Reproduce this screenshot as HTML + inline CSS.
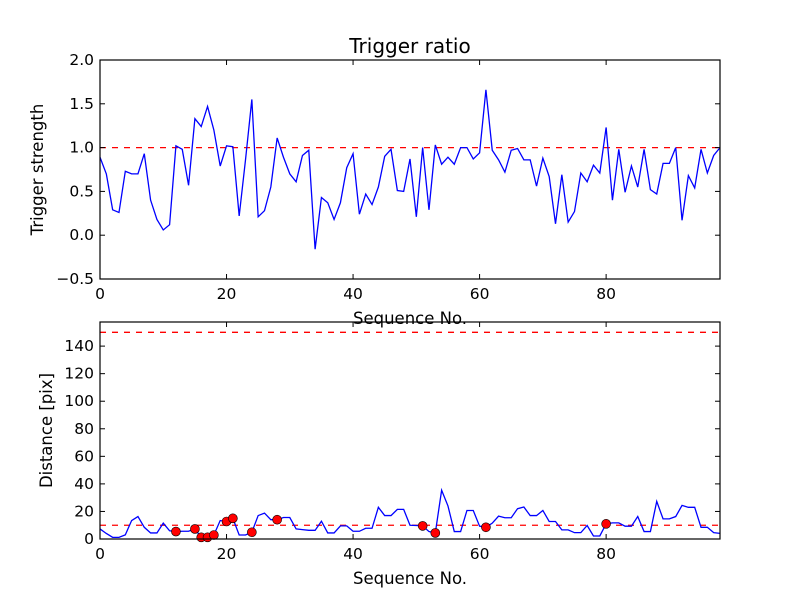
<!DOCTYPE html>
<html><head><meta charset="utf-8"><style>
body{margin:0;background:#fff;}
svg text{font-family:"DejaVu Sans","Liberation Sans",sans-serif;fill:#000;}
</style></head><body>
<svg id="chart" width="800" height="600" xmlns="http://www.w3.org/2000/svg"></svg>
<script>
const ratio=[0.89,0.70,0.29,0.26,0.73,0.70,0.70,0.93,0.40,0.18,0.06,0.12,1.02,0.98,0.57,1.33,1.24,1.47,1.20,0.79,1.02,1.01,0.22,0.86,1.55,0.21,0.28,0.55,1.11,0.89,0.70,0.61,0.91,0.97,-0.16,0.43,0.37,0.18,0.37,0.77,0.93,0.24,0.47,0.35,0.55,0.90,0.98,0.51,0.50,0.87,0.21,1.0,0.29,1.03,0.81,0.89,0.81,1.0,1.0,0.87,0.94,1.66,0.97,0.86,0.72,0.97,0.99,0.86,0.86,0.56,0.88,0.67,0.13,0.69,0.15,0.27,0.71,0.61,0.80,0.71,1.23,0.40,0.98,0.49,0.79,0.55,0.98,0.52,0.47,0.82,0.82,1.0,0.17,0.68,0.54,0.98,0.71,0.91,1.0];
const dist=[7.3,4,1.2,1.2,3,13.4,16.3,8.5,4.4,4.4,11.5,6,5.4,5.6,5.6,7.3,1.2,1.2,2.9,13.4,12.7,15,2.9,2.9,4.9,17,18.8,14,14,15.6,15.6,7.3,6.8,6.3,6.3,12.9,4.4,4.4,9.5,9.5,5.6,5.6,7.8,7.8,23,17,17,21.5,21.5,10,9.8,9.5,5.4,4.4,35.4,24,5.4,5.4,20.7,20.7,9.3,8.5,11.5,16.6,15.4,15.4,22,23.2,17,17,20.7,12.7,12.7,6.6,6.6,4.6,4.6,9.8,2.2,2.2,11,11.7,11.7,9.3,9.3,16.3,5.4,5.4,27.3,14.6,14.6,16.3,24.4,23,23,8.5,8.5,4.6,4.1];
const markIdx=[12,15,16,17,18,20,21,24,28,51,53,61,80];
const xTicks=[0,20,40,60,80];
const yTicksTop=[-0.5,0.0,0.5,1.0,1.5,2.0];
const yTicksBot=[0,20,40,60,80,100,120,140];
const ratioThreshold=[1.0];
const distThresholds=[10,150];

const svg=document.getElementById('chart');
const NS='http://www.w3.org/2000/svg';
function mk(tag,attrs,parent){const e=document.createElementNS(NS,tag);for(const k in attrs)e.setAttribute(k,attrs[k]);(parent||svg).appendChild(e);return e;}
const X0=100,X1=720,XMIN=0,XMAX=98;
const xs=v=>X0+(v-XMIN)/(XMAX-XMIN)*(X1-X0);

function panel(name,top,bot,ymin,ymax,yTicks,fmt,vals,thr,markers,ylabel,ylx){
  const ys=v=>bot-(v-ymin)/(ymax-ymin)*(bot-top);
  const g=mk('g',{});
  
  
  thr.forEach(t=>{const l=mk('line',{x1:X0,x2:X1,y1:ys(t),y2:ys(t),stroke:'#ff0000','stroke-width':1.3,'stroke-dasharray':'6,6'},g);
    
    });
  const p=mk('polyline',{points:vals.map((v,i)=>xs(i)+','+ys(v)).join(' '),fill:'none',stroke:'#0000ff','stroke-width':1.3},g);
  
  
  markers.forEach(i=>{const c=mk('circle',{cx:xs(i),cy:ys(vals[i]),r:4.5,fill:'#ff0000',stroke:'#000','stroke-width':0.6},g);
    
    });
  const f=mk('rect',{x:X0,y:top,width:X1-X0,height:bot-top,fill:'none',stroke:'#000','stroke-width':1.2},g);
  
  
  xTicks.forEach(t=>{const x=xs(t);
    mk('line',{x1:x,x2:x,y1:bot,y2:bot-5,stroke:'#000'},g);mk('line',{x1:x,x2:x,y1:top,y2:top+5,stroke:'#000'},g);
    const tx=mk('text',{x:x,y:bot+20,'text-anchor':'middle','font-size':15.5},g);tx.textContent=t;
    
    });
  yTicks.forEach(t=>{const y=ys(t);
    mk('line',{x1:X0,x2:X0+5,y1:y,y2:y,stroke:'#000'},g);mk('line',{x1:X1,x2:X1-5,y1:y,y2:y,stroke:'#000'},g);
    const tx=mk('text',{x:X0-6,y:y+5,'text-anchor':'end','font-size':15.5},g);tx.textContent=fmt(t).replace('-','\u2212');
    
    });
  const yl=mk('text',{x:ylx,y:(top+bot)/2,'text-anchor':'middle','font-size':16.5,transform:`rotate(-90 ${ylx} ${(top+bot)/2})`},g);
  yl.textContent=ylabel;
  
  
  const xl=mk('text',{x:410,y:bot+45,'text-anchor':'middle','font-size':16.5},g);
  xl.textContent='Sequence No.';
  
  
}
const title=mk('text',{x:410,y:53,'text-anchor':'middle','font-size':20});
title.textContent='Trigger ratio';


panel('ratio',60,279,-0.5,2.0,yTicksTop,t=>t.toFixed(1),ratio,ratioThreshold,[],'Trigger strength',43);
panel('distance',322,539,0,157.5,yTicksBot,t=>String(t),dist,distThresholds,markIdx,'Distance [pix]',52);
</script>
</body></html>
